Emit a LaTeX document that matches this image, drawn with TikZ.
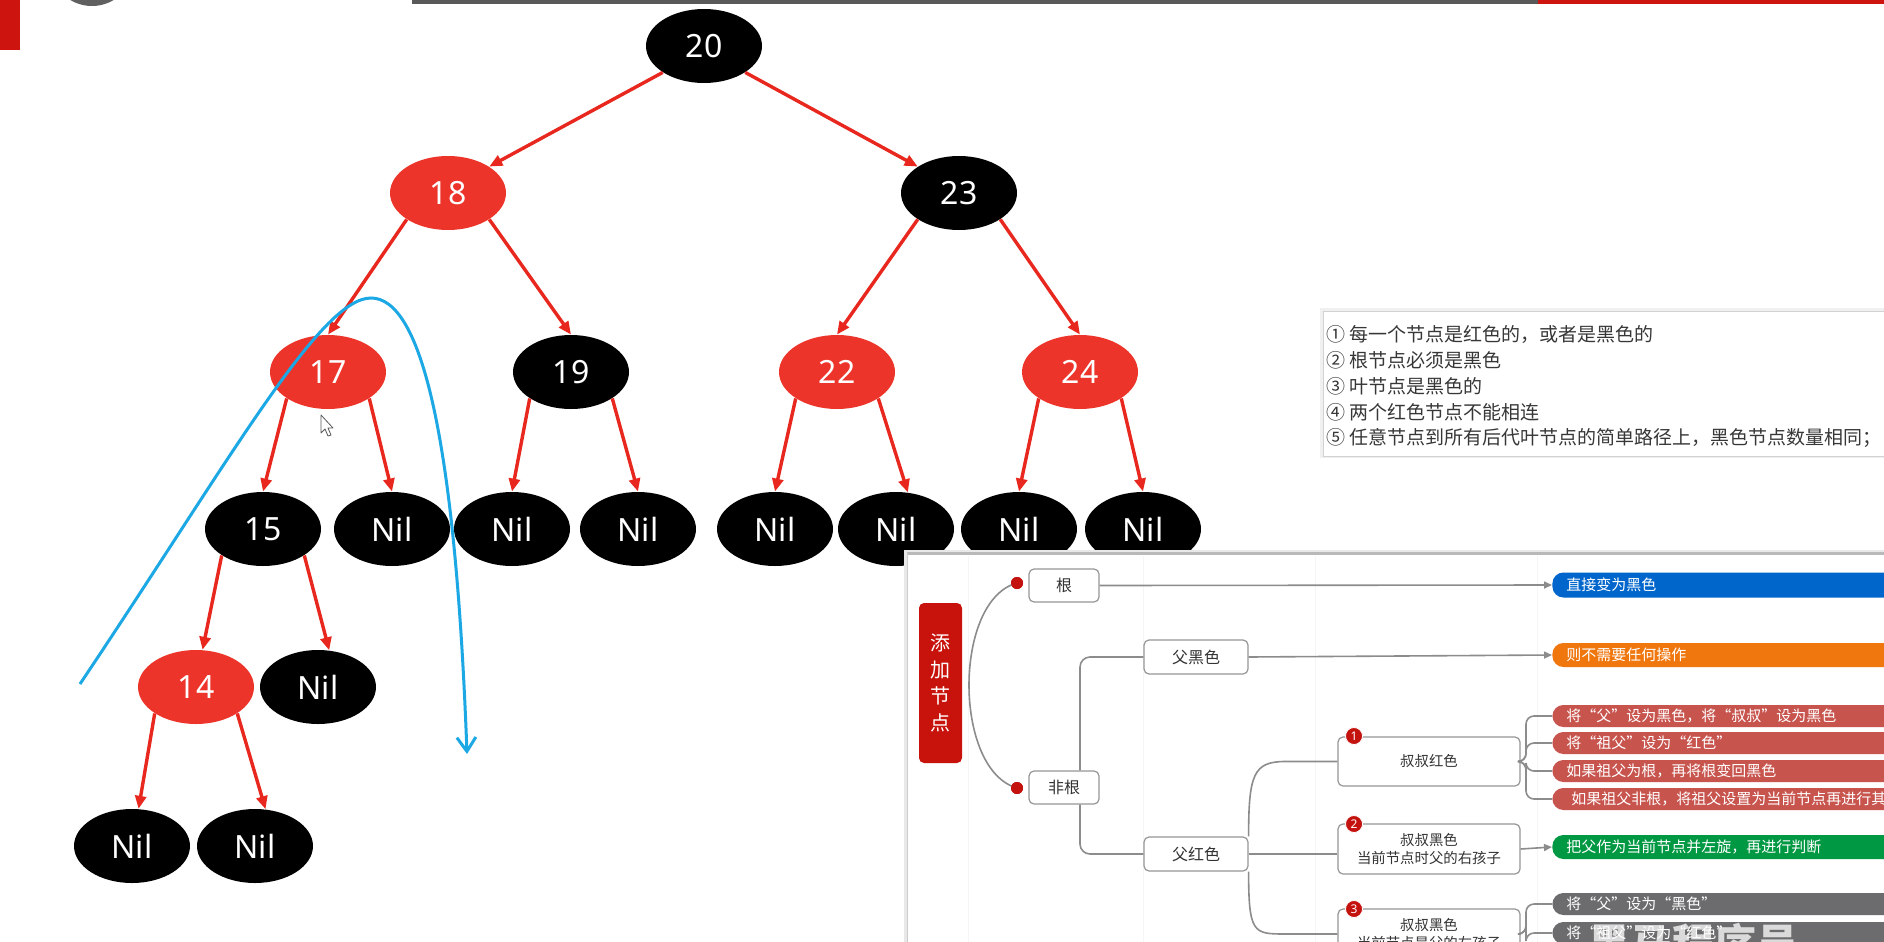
\documentclass[tikz,border=0pt]{standalone}
\usepackage{fontspec}
\setmainfont{Noto Sans}
\newfontfamily\cjk{Noto Sans CJK SC}
\usetikzlibrary{shapes.geometric,arrows.meta}
\definecolor{treered}{RGB}{237,52,42}
\definecolor{edgered}{RGB}{232,40,30}
\definecolor{bluec}{RGB}{28,168,228}
\definecolor{addred}{RGB}{200,18,12}
\definecolor{topred}{RGB}{205,20,14}
\definecolor{barblue}{RGB}{0,102,204}
\definecolor{barorange}{RGB}{240,118,14}
\definecolor{barred}{RGB}{200,84,78}
\definecolor{bargreen}{RGB}{0,152,66}
\definecolor{bargray}{RGB}{108,108,110}
\definecolor{linegray}{RGB}{140,140,140}
\definecolor{boxgray}{RGB}{150,150,150}
\definecolor{badgered}{RGB}{196,18,14}
\definecolor{ruletext}{RGB}{55,55,55}
\begin{document}
\begin{tikzpicture}[x=0.5pt,y=-0.5pt,
  tnode/.style={ellipse, minimum width=58pt, minimum height=37pt, inner sep=0pt, text=white, font=\fontsize{16}{18}\selectfont},
  bk/.style={tnode, fill=black},
  rd/.style={tnode, fill=treered},
  tedge/.style={draw=edgered, line width=1.7pt, -{Triangle[length=6.5pt,width=5.5pt]}},
  bluestroke/.style={draw=bluec, line width=1.5pt, -{Straight Barb[length=7pt,width=9.5pt]}},
  ruleline/.style={anchor=west, inner sep=0pt, text=ruletext, font=\cjk\fontsize{9.5}{11}\selectfont},
  mbox/.style={draw=boxgray, fill=white, rounded corners=2.5pt, line width=0.6pt, inner sep=0pt, text=black!80, font=\cjk\fontsize{8}{10}\selectfont},
  sbox/.style={mbox, align=center, minimum width=91pt, font=\cjk\fontsize{7.2}{9}\selectfont},
  addbox/.style={fill=addred, rounded corners=2.5pt, minimum width=21.5pt, minimum height=80pt, inner sep=0pt, text=white, align=center, font=\cjk\fontsize{10}{13.3}\selectfont},
  bar/.style={anchor=west, text width=186pt, align=left, inner xsep=7pt, inner ysep=0pt, rounded corners=5.5pt, text=white, font=\cjk\fontsize{7.5}{9}\selectfont},
  mline/.style={draw=linegray, line width=0.8pt},
  mtip/.style={-{Triangle[length=4pt,width=3.5pt]}},
  badge/.style={circle, fill=badgered, draw=white, line width=0.4pt, minimum size=8.5pt, inner sep=0pt, text=white, font=\bfseries\fontsize{6}{6}\selectfont},
  mdot/.style={circle, fill=badgered, minimum size=6pt, inner sep=0pt}
]
\useasboundingbox (0,0) rectangle (1884,942);
\fill[white] (0,0) rectangle (1884,942);

% top decorations
\fill[topred] (0,0) rectangle (20,50);
\fill[gray!75!black] (92,-36) circle[radius=21pt];
\fill[gray!70!black] (412,0) rectangle (1538,4);
\fill[topred] (1538,0) rectangle (1884,4);

% tree nodes
\node[bk] (n20) at (704,46) {20};
\node[rd] (n18) at (448,193) {18};
\node[bk] (n23) at (959,193) {23};
\node[rd] (n17) at (328,372) {17};
\node[bk] (n19) at (571,372) {19};
\node[rd] (n22) at (837,372) {22};
\node[rd] (n24) at (1080,372) {24};
\node[bk] (n15) at (263,529) {15};
\node[bk] (l1) at (392,529) {Nil};
\node[bk] (l2) at (512,529) {Nil};
\node[bk] (l3) at (638,529) {Nil};
\node[bk] (l4) at (775,529) {Nil};
\node[bk] (l5) at (896,529) {Nil};
\node[bk] (l6) at (1019,529) {Nil};
\node[bk] (l7) at (1143,529) {Nil};
\node[rd] (n14) at (196,687) {14};
\node[bk] (l8) at (318,687) {Nil};
\node[bk] (l9) at (132,846) {Nil};
\node[bk] (l10) at (255,846) {Nil};

% tree edges
\draw[tedge] (n20.south west) -- (n18.north east);
\draw[tedge] (n20.south east) -- (n23.north west);
\draw[tedge] (n18.south west) -- (n17.north);
\draw[tedge] (n18.south east) -- (n19.north);
\draw[tedge] (n23.south west) -- (n22.north);
\draw[tedge] (n23.south east) -- (n24.north);
\draw[tedge] (n17.south west) -- (n15.north);
\draw[tedge] (n17.south east) -- (l1.north);
\draw[tedge] (n19.south west) -- (l2.north);
\draw[tedge] (n19.south east) -- (l3.north);
\draw[tedge] (n22.south west) -- (l4.north);
\draw[tedge] (n22.south east) -- (l5.72);
\draw[tedge] (n24.south west) -- (l6.north);
\draw[tedge] (n24.south east) -- (l7.north);
\draw[tedge] (n15.south west) -- (n14.80);
\draw[tedge] (n15.south east) -- (l8.73);
\draw[tedge] (n14.south west) -- (l9.80);
\draw[tedge] (n14.south east) -- (l10.74);

% blue hand-drawn stroke
\coordinate (bs) at (80,684);
\coordinate (bt) at (371,298);
\coordinate (be) at (467,754);
\draw[bluestroke] (bs) .. controls (230,460) and (320,298) .. (bt) .. controls (420,298) and (455,430) .. (be);

% mouse cursor
\draw[fill=white, draw=gray!70!black, line width=0.4pt, line join=round] (321,415) -- (321,433) -- (325,429) -- (328,436) -- (331,435) -- (328,428) -- (333,428) -- cycle;

% rules box
\begin{scope}
\clip (0,0) rectangle (1884,942);
\fill[gray!12] (1320,308) rectangle (1900,458);
\node[draw=gray!35, fill=white, line width=0.5pt, anchor=north west, minimum width=290pt, minimum height=72.5pt, inner sep=0pt] (rules) at (1323,311) {};
\node[ruleline] (r1) at (1326,334) {① 每一个节点是红色的，或者是黑色的};
\node[ruleline] (r2) at (1326,360) {② 根节点必须是黑色};
\node[ruleline] (r3) at (1326,386) {③ 叶节点是黑色的};
\node[ruleline] (r4) at (1326,412) {④ 两个红色节点不能相连};
\node[ruleline] (r5) at (1326,438) {⑤ 任意节点到所有后代叶节点的简单路径上，黑色节点数量相同；};
\end{scope}

% mind-map panel
\begin{scope}
\clip (904,550) rectangle (1884,942);
\fill[gray!18] (904,550) rectangle (1900,960);
\node[fill=white, anchor=north west, minimum width=500pt, minimum height=200pt, inner sep=0pt] (panel) at (907,555) {};
\draw[gray!55, line width=1.2pt] (907,553.5) -- (1884,553.5);
\draw[gray!40, line width=0.5pt] (907,553) -- (907,942);
\foreach \gx in {968,1143,1315,1537} \draw[gray!8, line width=0.5pt] (\gx,556) -- (\gx,942);

% nodes
\node[addbox] (add) at (940.5,683) {添\\加\\节\\点};
\node[mbox, minimum width=35pt, minimum height=16.5pt] (gen) at (1064,585.5) {根};
\node[mbox, minimum width=35pt, minimum height=16.5pt] (feigen) at (1064,787.5) {非根};
\node[mbox, minimum width=52pt, minimum height=17pt] (fuhei) at (1196,657) {父黑色};
\node[mbox, minimum width=52pt, minimum height=17pt] (fuhong) at (1196,854) {父红色};
\node[sbox, minimum height=24.5pt] (s1) at (1429,761.5) {叔叔红色};
\node[sbox, minimum height=25pt] (s2) at (1429,849) {叔叔黑色\\当前节点时父的右孩子};
\node[sbox, minimum height=25pt] (s3) at (1429,934) {叔叔黑色\\当前节点是父的左孩子};
\node[badge] (k1) at (1354,736) {1};
\node[badge] (k2) at (1354,824) {2};
\node[badge] (k3) at (1354,909) {3};

\node[bar, fill=barblue, minimum height=12.5pt] (b0) at (1552,585) {直接变为黑色};
\node[bar, fill=barorange, minimum height=12pt] (b1) at (1552,655) {则不需要任何操作};
\node[bar, fill=barred, minimum height=11pt] (c1) at (1552,716) {将“父”设为黑色，将“叔叔”设为黑色};
\node[bar, fill=barred, minimum height=11pt] (c2) at (1552,743) {将“祖父”设为“红色”};
\node[bar, fill=barred, minimum height=11pt] (c3) at (1552,771) {如果祖父为根，再将根变回黑色};
\node[bar, fill=barred, minimum height=11pt] (c4) at (1552,799) {\hspace{2.5pt}如果祖父非根，将祖父设置为当前节点再进行其他操作};
\node[bar, fill=bargreen, minimum height=12pt] (g1) at (1552,847) {把父作为当前节点并左旋，再进行判断};
\node[bar, fill=bargray, minimum height=11pt] (d1) at (1552,904) {将“父”设为“黑色”};
\node[bar, fill=bargray, minimum height=11pt] (d2) at (1552,933) {将“祖父”设为“红色”};

% watermark
\node[anchor=west, inner sep=0pt, text=white, opacity=0.75, font=\cjk\bfseries\fontsize{21}{21}\selectfont] (wm) at (1588,944) {黑马程序员};

% connectors
\node[mdot] (dt1) at (1017,583) {};
\node[mdot] (dt2) at (1017,788) {};
\draw[mline] (dt1.center) .. controls (953,600) and (953,770) .. (dt2.center);
\node[mdot] at (dt1) {};
\node[mdot] at (dt2) {};
\draw[mline, mtip] (gen.east) -- (b0.west);
\draw[mline, rounded corners=5pt] ([xshift=8pt]feigen.north) |- (fuhei.west);
\draw[mline, rounded corners=5pt] ([xshift=8pt]feigen.south) |- (fuhong.west);
\draw[mline, mtip] (fuhei.east) -- (b1.west);
\draw[mline] (fuhong.north east) .. controls +(0,-62) and +(-32,0) .. ([xshift=-26pt]s1.west) -- (s1.west);
\draw[mline] (fuhong.east) -- (fuhong.east -| s2.west);
\draw[mline] (fuhong.south east) .. controls +(0,62) and +(-32,0) .. ([xshift=-26pt]s3.west) -- (s3.west);
\foreach \b in {c1,c2,c3,c4} \draw[mline, rounded corners=4pt] (\b.west) -- ++(-26,0) |- (s1.east);
\draw[mline, mtip] (s2.east) -- (g1.west);
\foreach \b in {d1,d2} \draw[mline, rounded corners=4pt] (\b.west) -- ++(-26,0) |- (s3.east);
\node[badge] at (k1) {1};
\node[badge] at (k2) {2};
\node[badge] at (k3) {3};
\end{scope}
\end{tikzpicture}
\end{document}
